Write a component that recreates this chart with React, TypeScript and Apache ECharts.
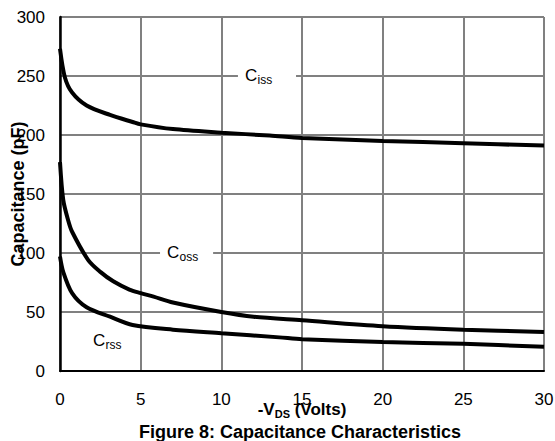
import React, { useEffect, useRef } from "react";
import * as echarts from "echarts";

const cissV = [0, 0.3, 0.75, 1.65, 3.1, 4.5, 5, 7, 10, 13, 15, 20, 25, 30];
const cissC = [273, 249, 236, 225, 217, 211, 209, 205, 202, 199.5, 197.5, 195, 193, 191];
const cossV = [0, 0.2, 0.5, 0.75, 1.75, 2.5, 3.3, 4.3, 5, 5.8, 7, 10, 12, 15, 20, 25, 30];
const cossC = [177, 145, 128, 118, 94, 84, 76, 69, 66, 63, 58, 50, 46, 43, 38, 35, 33];
const crssV = [0, 0.2, 0.75, 1.65, 3.1, 4.5, 7, 10, 13.6, 15, 20, 25, 30];
const crssC = [97, 84, 66, 54, 46, 39, 35, 32, 28.5, 27, 24.5, 23, 20.5];

// labels: name, subscript, anchor voltage, anchor capacitance, background box from/to voltage
const labelMain = ["C", "C", "C"];
const labelSub = ["iss", "oss", "rss"];
const labelV = [11.47, 6.63, 2.05];
const labelC = [250, 100, 25.4];
const boxFrom = [11.03, 6.2, null];
const boxTo = [14.63, 9.49, null];

const FONT = "'Liberation Sans', Arial, sans-serif";

const pairs = (xs: number[], ys: number[]) => xs.map((x, i) => [x, ys[i]]);

export default function App() {
  const ref = useRef<HTMLDivElement>(null);
  useEffect(() => {
    if (!ref.current) return;
    const chart = echarts.init(ref.current, undefined, { renderer: "svg" });
    const lineSeries = (name: string, data: number[][]) => ({
      name,
      type: "line",
      data,
      smooth: 0.3,
      showSymbol: false,
      symbol: "none",
      lineStyle: { color: "#000", width: 4 },
      z: 5,
    });
    chart.setOption({
      animation: false,
      textStyle: { fontFamily: FONT },
      title: {
        text: "Figure 8: Capacitance Characteristics",
        left: 300,
        textAlign: "center",
        top: 423,
        padding: 0,
        textStyle: { fontFamily: FONT, fontWeight: "bold", fontSize: 18, color: "#000" },
      },
      grid: { left: 60, right: 11, top: 17, bottom: 70, containLabel: false, outerBoundsMode: "none" },
      xAxis: {
        type: "value",
        min: 0,
        max: 30,
        interval: 5,
        name: "-V{s|DS} (Volts)",
        nameLocation: "middle",
        nameGap: 29,
        nameMoveOverlap: false,
        nameTextStyle: {
          fontFamily: FONT,
          fontWeight: "bold",
          fontSize: 17,
          color: "#000",
          rich: {
            s: { fontFamily: FONT, fontWeight: "bold", fontSize: 11, color: "#000", padding: [8, 0, 0, 0] },
          },
        },
        axisLine: { show: true, onZero: false, lineStyle: { color: "#000", width: 2 } },
        axisTick: { show: false },
        axisLabel: { fontFamily: FONT, fontSize: 17, color: "#000", margin: 20 },
        splitLine: { show: true, lineStyle: { color: "#808080", width: 2 } },
        z: 3,
      },
      yAxis: {
        type: "value",
        min: 0,
        max: 300,
        interval: 50,
        name: "Capacitance (pF)",
        nameLocation: "middle",
        nameGap: 33,
        nameMoveOverlap: false,
        nameTextStyle: { fontFamily: FONT, fontWeight: "bold", fontSize: 18, color: "#000" },
        axisLine: { show: true, onZero: false, lineStyle: { color: "#000", width: 2.5 } },
        axisTick: { show: false },
        axisLabel: { fontFamily: FONT, fontSize: 17, color: "#000", margin: 15 },
        splitLine: { show: true, lineStyle: { color: "#808080", width: 2 } },
        z: 3,
      },
      series: [
        lineSeries("Ciss", pairs(cissV, cissC)),
        lineSeries("Coss", pairs(cossV, cossC)),
        lineSeries("Crss", pairs(crssV, crssC)),
      ],
    });

    const elements: any[] = [];
    labelMain.forEach((m, i) => {
      const p = chart.convertToPixel({ gridIndex: 0 }, [labelV[i], labelC[i]]) as number[];
      if (boxFrom[i] !== null && boxTo[i] !== null) {
        const a = chart.convertToPixel({ gridIndex: 0 }, [boxFrom[i] as number, labelC[i]]) as number[];
        const b = chart.convertToPixel({ gridIndex: 0 }, [boxTo[i] as number, labelC[i]]) as number[];
        elements.push({
          type: "rect",
          shape: { x: a[0], y: a[1] - 6, width: b[0] - a[0], height: 12 },
          style: { fill: "#fff" },
          z: 10,
        });
      }
      elements.push({
        type: "text",
        x: p[0],
        y: p[1] - 9,
        style: { text: m, font: `17px ${FONT}`, fill: "#000", textAlign: "left", textVerticalAlign: "top" },
        z: 11,
      });
      elements.push({
        type: "text",
        x: p[0] + 12.5,
        y: p[1] - 2,
        style: { text: labelSub[i], font: `12px ${FONT}`, fill: "#000", textAlign: "left", textVerticalAlign: "top" },
        z: 11,
      });
    });
    chart.setOption({ graphic: elements });

    return () => chart.dispose();
  }, []);
  return (
    <div
      ref={ref}
      style={{ position: "absolute", left: 0, top: 0, width: 555, height: 441, background: "#fff" }}
    />
  );
}
